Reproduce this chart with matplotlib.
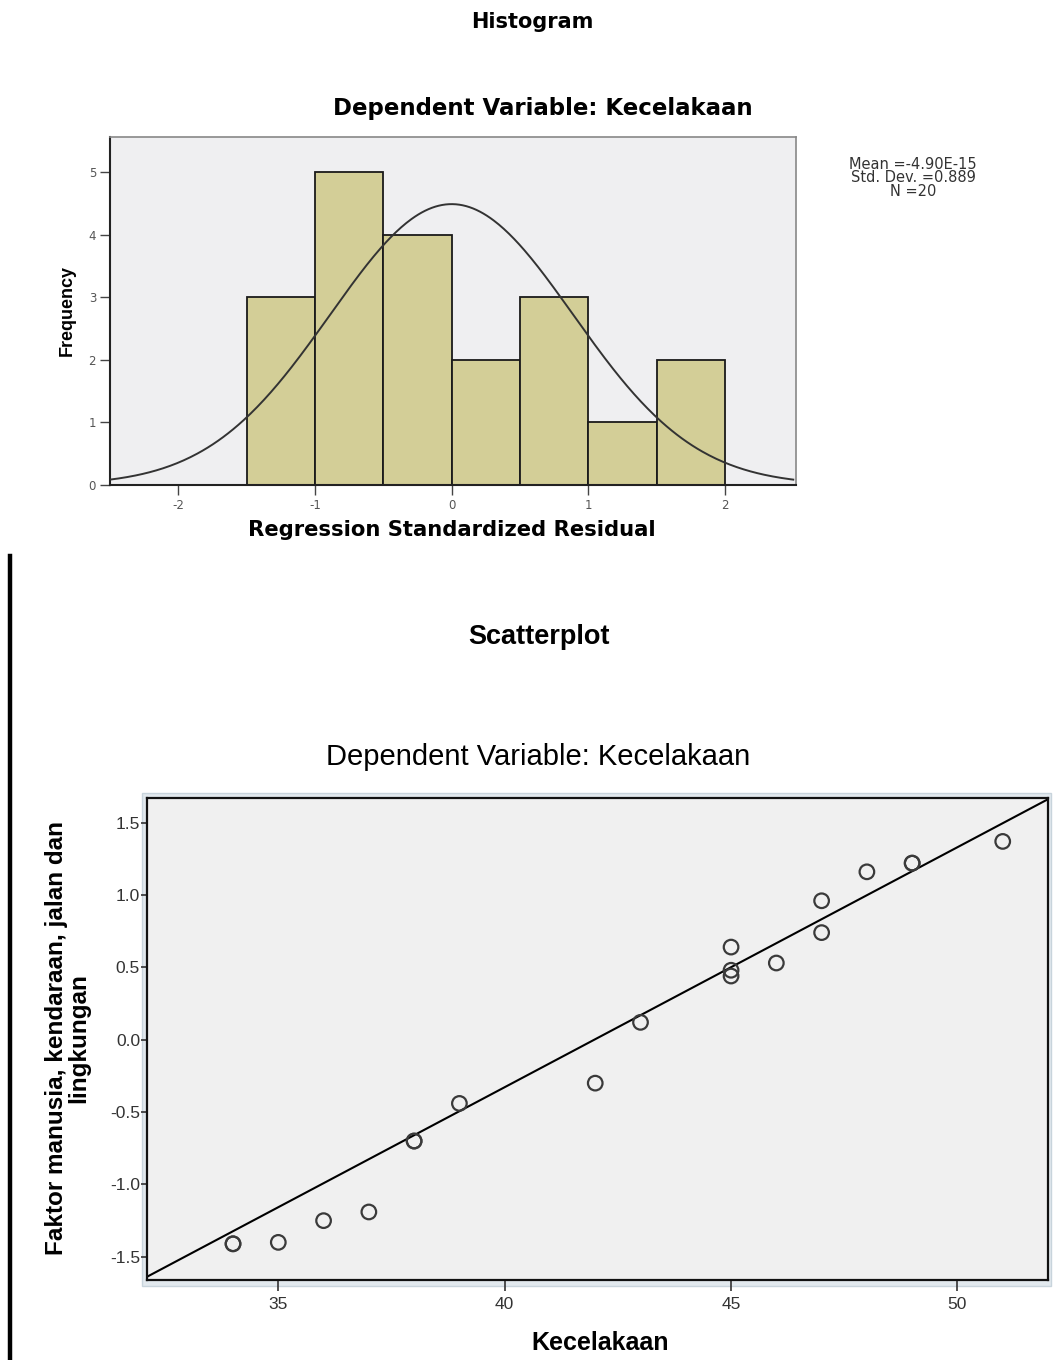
import numpy as np
import matplotlib
matplotlib.use("Agg")
import matplotlib.pyplot as plt
from matplotlib.patches import Rectangle
from matplotlib.lines import Line2D

plt.rcParams["axes.unicode_minus"] = False

# histogram of regression standardized residuals
bin_edges = [-1.5, -1.0, -0.5, 0.0, 0.5, 1.0, 1.5, 2.0]
bin_counts = [3, 5, 4, 2, 3, 1, 2]
resid_mean = -4.90e-15
resid_sd = 0.889
resid_n = 20

# scatterplot: Kecelakaan vs factor score
kecelakaan = [34, 34, 35, 36, 37, 38, 38, 39, 42, 43, 45, 45, 45, 46, 47, 47, 48, 49, 49, 51]
faktor = [-1.41, -1.41, -1.40, -1.25, -1.19, -0.70, -0.70, -0.44, -0.30, 0.12,
          0.64, 0.48, 0.44, 0.53, 0.96, 0.74, 1.16, 1.22, 1.22, 1.37]
fit_intercept = -6.96
fit_slope = 0.1658

W, H = 1059, 1360
fig = plt.figure(figsize=(W / 100, H / 100), dpi=100)
fig.patch.set_facecolor("white")

def fx(px):
    return px / W

def fy(py):
    return 1 - py / H

WIDE = ["DejaVu Sans"]
ARIAL = ["Liberation Sans", "DejaVu Sans"]

# ---- histogram ----
ax1 = fig.add_axes([fx(110), fy(485), fx(796) - fx(110), fy(137) - fy(485)])
ax1.set_facecolor("#efeff1")
widths = np.diff(bin_edges)
ax1.bar(bin_edges[:-1], bin_counts, width=widths, align="edge",
        color="#d3ce97", edgecolor="#1a1a1a", linewidth=1.3, zorder=2)
xs = np.linspace(-2.5, 2.5, 400)
bw = bin_edges[1] - bin_edges[0]
ys = resid_n * bw / (resid_sd * np.sqrt(2 * np.pi)) * np.exp(-0.5 * ((xs - resid_mean) / resid_sd) ** 2)
ax1.plot(xs, ys, color="#333333", linewidth=1.4, zorder=3)
ax1.set_xlim(-2.5, 2.52)
ax1.set_ylim(0, 5.56)
ax1.set_xticks([-2, -1, 0, 1, 2])
ax1.set_yticks([0, 1, 2, 3, 4, 5])
ax1.tick_params(direction="out", length=7, width=1.0, color="#444444",
                labelsize=8.5, labelcolor="#555555", pad=3)
for lab in ax1.get_xticklabels() + ax1.get_yticklabels():
    lab.set_family(WIDE)
for side in ["top", "right"]:
    ax1.spines[side].set_color("#888888")
    ax1.spines[side].set_linewidth(1.2)
for side in ["left", "bottom"]:
    ax1.spines[side].set_color("#222222")
    ax1.spines[side].set_linewidth(1.5)

fig.text(fx(532), fy(22), "Histogram", ha="center", va="center",
         fontsize=15, fontweight="bold", family=WIDE)
fig.text(fx(543), fy(108), "Dependent Variable: Kecelakaan", ha="center", va="center",
         fontsize=16.5, fontweight="bold", family=WIDE)
fig.text(fx(452), fy(530), "Regression Standardized Residual", ha="center", va="center",
         fontsize=15.2, fontweight="bold", family=WIDE)
fig.text(fx(67), fy(310), "Frequency", ha="center", va="center", rotation=90,
         fontsize=13, fontweight="bold", family=["Liberation Sans Narrow", "Liberation Sans"])
fig.text(fx(913), fy(178), "Mean =-4.90E-15\nStd. Dev. =0.889\nN =20",
         ha="center", va="center", fontsize=10.5, family=WIDE, color="#333333",
         linespacing=0.85)

# vertical rule on the left edge of the lower section
fig.add_artist(Line2D([fx(10), fx(10)], [fy(556), 0], color="black", linewidth=3.2))

# ---- scatterplot ----
L, R, T, B = 147, 1048, 798, 1280
fig.add_artist(Rectangle((fx(L - 5), fy(B + 6)), fx(R + 3) - fx(L - 5), fy(T - 5) - fy(B + 6),
                         facecolor="#e2e9ee", edgecolor="#c8d4dc", linewidth=1.0,
                         transform=fig.transFigure, zorder=0))
ax2 = fig.add_axes([fx(L), fy(B), fx(R) - fx(L), fy(T) - fy(B)])
ax2.set_facecolor("#f0f0f0")
ax2.set_xlim(32.1, 52.0)
ax2.set_ylim(-1.66, 1.67)
ax2.scatter(kecelakaan, faktor, s=110, facecolors="none", edgecolors="#3a3a3a",
            linewidths=1.6, zorder=3)
lx = np.array(ax2.get_xlim())
ax2.plot(lx, fit_intercept + fit_slope * lx, color="black", linewidth=1.5, zorder=2)
ax2.set_xlim(32.1, 52.0)
ax2.set_xticks([35, 40, 45, 50])
ax2.set_yticks([-1.5, -1.0, -0.5, 0.0, 0.5, 1.0, 1.5])
ax2.set_yticklabels(["-1.5", "-1.0", "-0.5", "0.0", "0.5", "1.0", "1.5"])
ax2.tick_params(axis="y", direction="out", length=4, width=1.2, color="#333333",
                labelsize=12.5, labelcolor="#333333", pad=1)
ax2.tick_params(axis="x", direction="out", length=8, width=1.2, color="#333333",
                labelsize=12.5, labelcolor="#333333", pad=4)
for lab in ax2.get_xticklabels() + ax2.get_yticklabels():
    lab.set_family(ARIAL)
for sp in ax2.spines.values():
    sp.set_color("#111111")
    sp.set_linewidth(1.6)

fig.text(fx(539), fy(637), "Scatterplot", ha="center", va="center",
         fontsize=19.5, fontweight="bold", family=ARIAL)
fig.text(fx(538), fy(757), "Dependent Variable: Kecelakaan", ha="center", va="center",
         fontsize=21, family=ARIAL)
fig.text(fx(68), fy(1038), "Faktor manusia, kendaraan, jalan dan\nlingkungan",
         ha="center", va="center", rotation=90, fontsize=17.5, fontweight="bold",
         family=ARIAL, linespacing=0.95)
fig.text(fx(600), fy(1343), "Kecelakaan", ha="center", va="center",
         fontsize=18, fontweight="bold", family=ARIAL)

fig.savefig("out.png", dpi=100)
